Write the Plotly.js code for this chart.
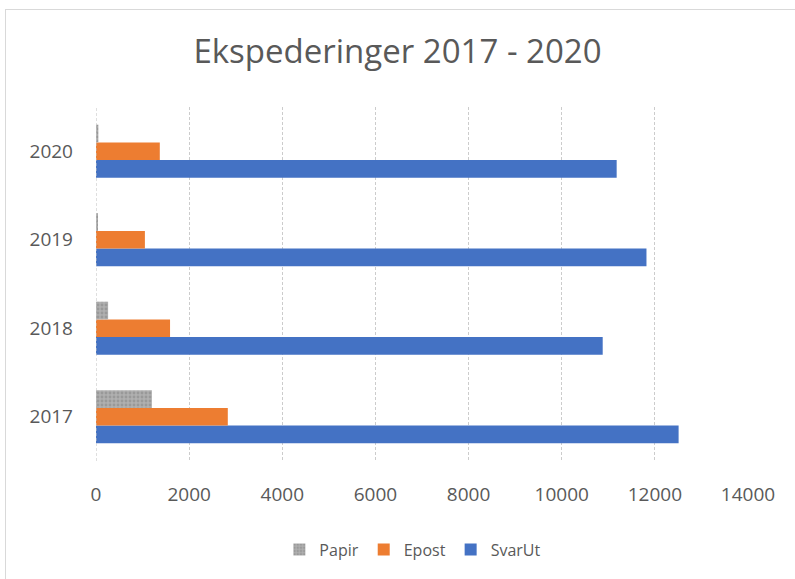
<!DOCTYPE html>
<html>
<head>
<meta charset="utf-8">
<script src="https://cdn.plot.ly/plotly-3.0.1.min.js"></script>
<style>
  body { margin: 0; background: #fff; }
  #ramme { position: absolute; left: 5px; top: 9px; width: 900px; height: 700px; border-left: 1px solid #d9d9d9; border-top: 1px solid #d9d9d9; }
  #chart { position: absolute; left: 0; top: 0; width: 795px; height: 579px; }
</style>
</head>
<body>
<div id="ramme"></div>
<div id="chart"></div>
<script>
// År og verdier lest av figuren
const aar = ['2017', '2018', '2019', '2020'];
const papir = [1200, 260, 40, 50];
const epost = [2830, 1590, 1050, 1370];
const svarUt = [12510, 10880, 11820, 11180];

const CHART = document.getElementById('chart');

// SvarUt først slik at den havner nederst i hver gruppe
const data = [
    { y: aar, x: svarUt, name: 'SvarUt', type: 'bar', orientation: 'h', marker: { color: '#4472c4' } },
    { y: aar, x: epost, name: 'Epost', type: 'bar', orientation: 'h', marker: { color: '#ed7d31' } },
    {
        y: aar, x: papir, name: 'Papir', type: 'bar', orientation: 'h',
        marker: { color: '#a5a5a5', pattern: { shape: '.', fgcolor: '#999999', bgcolor: '#b0b0b0', size: 4, solidity: 0.4 } }
    }
];

const layout = {
    width: 795,
    height: 579,
    paper_bgcolor: 'rgba(0,0,0,0)',
    plot_bgcolor: 'rgba(0,0,0,0)',
    margin: { l: 96, r: 47, t: 107, b: 116 },
    title: {
        text: 'Ekspederinger 2017 - 2020',
        font: { family: 'Open Sans, sans-serif', size: 33, color: '#595959' },
        x: 0.5, xanchor: 'center', y: 0.912, yanchor: 'middle'
    },
    font: { family: 'Open Sans, sans-serif', color: '#595959', size: 19 },
    barmode: 'group',
    bargap: 0.4,
    bargroupgap: 0,
    xaxis: {
        range: [0, 14000],
        dtick: 2000,
        tickformat: 'd',
        showgrid: true,
        gridcolor: '#cccccc',
        griddash: '3px,2px',
        zeroline: false,
        showline: false,
        ticklabelstandoff: 20,
        tickfont: { size: 19, color: '#595959' }
    },
    yaxis: {
        type: 'category',
        showgrid: false,
        zeroline: false,
        showline: false,
        ticklabelstandoff: 22,
        tickfont: { size: 19, color: '#595959' }
    },
    shapes: [
        { type: 'line', xref: 'x', yref: 'paper', x0: 0, x1: 0, y0: 0, y1: 1, line: { color: '#bfbfbf', width: 1, dash: '3px,2px' } }
    ],
    legend: {
        orientation: 'h',
        traceorder: 'reversed',
        x: 0.486, xanchor: 'center',
        y: -0.25, yanchor: 'middle',
        font: { size: 16, color: '#595959' },
        itemwidth: 30
    },
    showlegend: true
};

Plotly.newPlot(CHART, data, layout, { displayModeBar: false });
</script>
</body>
</html>
